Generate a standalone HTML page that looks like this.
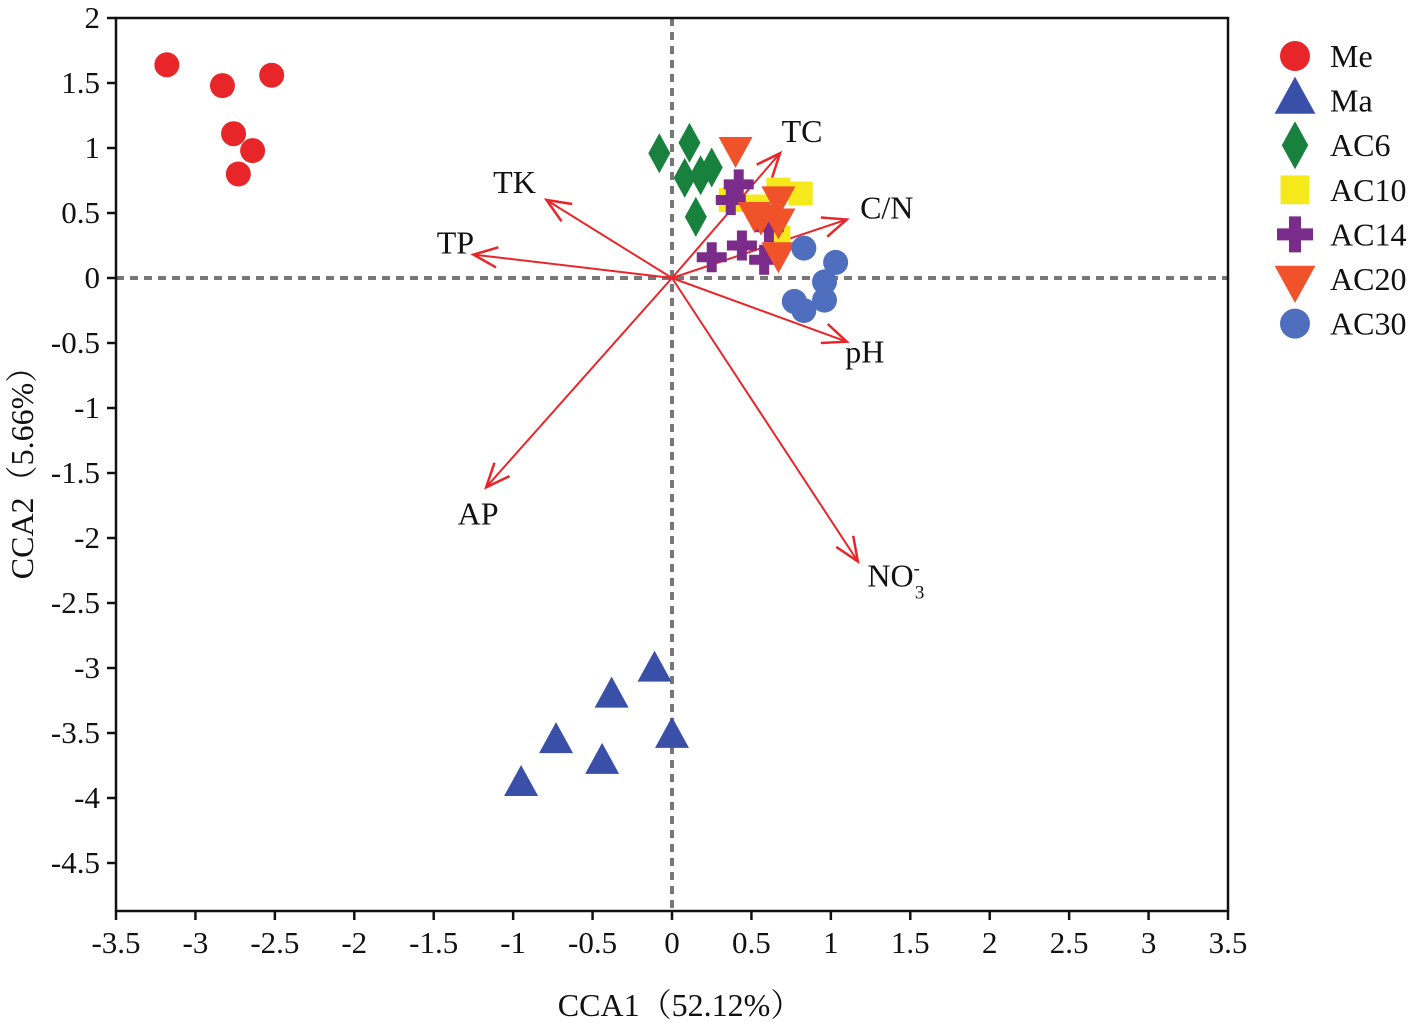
<!DOCTYPE html>
<html><head><meta charset="utf-8"><style>
body{margin:0;background:#fff}
svg text{font-family:"Liberation Serif","Noto Serif CJK SC",serif;fill:#111}
</style></head><body>
<svg id="c" width="1417" height="1026" viewBox="0 0 1417 1026" xmlns="http://www.w3.org/2000/svg"></svg>
<script>
const xTicks=[-3.5,-3,-2.5,-2,-1.5,-1,-0.5,0,0.5,1,1.5,2,2.5,3,3.5];
const yTicks=[2,1.5,1,0.5,0,-0.5,-1,-1.5,-2,-2.5,-3,-3.5,-4,-4.5];
const groupNames=["Me","Ma","AC6","AC10","AC14","AC20","AC30"];
const meX=[-3.18,-2.83,-2.52,-2.76,-2.64,-2.73], meY=[1.64,1.48,1.56,1.11,0.98,0.80];
const maX=[-0.11,-0.38,-0.73,0,-0.44,-0.95], maY=[-3.02,-3.22,-3.57,-3.53,-3.73,-3.90];
const ac6X=[-0.08,0.11,0.08,0.18,0.25,0.15], ac6Y=[0.96,1.04,0.77,0.79,0.85,0.47];
const ac10X=[0.67,0.81,0.37,0.67,0.54], ac10Y=[0.68,0.65,0.60,0.31,0.55];
const ac14X=[0.42,0.37,0.25,0.44,0.58,0.61], ac14Y=[0.72,0.60,0.16,0.25,0.14,0.39];
const ac20X=[0.40,0.67,0.56,0.67,0.67,0.52], ac20Y=[1.00,0.62,0.48,0.45,0.19,0.50];
const ac30X=[0.83,1.03,0.96,0.77,0.96,0.83], ac30Y=[0.23,0.12,-0.03,-0.18,-0.17,-0.25];
const envNames=["TC","C/N","pH","NO3","AP","TP","TK"];
const envX=[0.68,1.10,1.10,1.17,-1.17,-1.25,-0.79];
const envY=[0.96,0.45,-0.49,-2.18,-1.61,0.18,0.60];

const svg=document.getElementById('c');const NS='http://www.w3.org/2000/svg';
const L=116,R=1228,T=18,B=911,X0=-3.5,X1=3.5;
const sx=v=>L+(v-X0)/(X1-X0)*(R-L);
const sy=v=>278-(v)*130;
function el(t,a,p){const e=document.createElementNS(NS,t);for(const k in a)e.setAttribute(k,a[k]);(p||svg).appendChild(e);return e;}
let d=el('line',{x1:sx(0),y1:T,x2:sx(0),y2:B,stroke:'#777','stroke-width':4,'stroke-dasharray':'8 6'});


d=el('line',{x1:L,y1:sy(0),x2:R,y2:sy(0),stroke:'#777','stroke-width':4,'stroke-dasharray':'8 6'});


let f=el('rect',{x:L,y:T,width:R-L,height:B-T,fill:'none',stroke:'#111','stroke-width':2.5});


xTicks.forEach(v=>{const x=sx(v);el('line',{x1:x,y1:B,x2:x,y2:B+9,stroke:'#111','stroke-width':2.5});
 const t=el('text',{x:x,y:953,'text-anchor':'middle','font-size':31});t.textContent=v;
 
 });
yTicks.forEach(v=>{const y=sy(v);el('line',{x1:L-9,y1:y,x2:L,y2:y,stroke:'#111','stroke-width':2.5});
 const t=el('text',{x:L-16,y:y+10,'text-anchor':'end','font-size':31});t.textContent=v;
 
 });
let xt=el('text',{x:680,y:1016,'text-anchor':'middle','font-size':32});xt.textContent='CCA1（52.12%）';


let yt=el('text',{x:0,y:0,'text-anchor':'middle','font-size':32,transform:'translate(33,465) rotate(-90)'});yt.textContent='CCA2（5.66%）';


const labOff=[[22,-12],[40,-2],[18,20],[38,24],[-8,36],[-18,-2],[-32,-8]];
envNames.forEach((n,i)=>{const x2=sx(envX[i]),y2=sy(envY[i]),x1=sx(0),y1=sy(0);
 const g=el('g',{});
 
 el('line',{x1,y1,x2,y2,stroke:'#e8262a','stroke-width':2},g);
 const a=Math.atan2(y2-y1,x2-x1),h=26,s=0.4;
 el('polyline',{points:`${x2-h*Math.cos(a-s)},${y2-h*Math.sin(a-s)} ${x2},${y2} ${x2-h*Math.cos(a+s)},${y2-h*Math.sin(a+s)}`,fill:'none',stroke:'#e8262a','stroke-width':2.5},g);
 const t=el('text',{x:x2+labOff[i][0],y:y2+labOff[i][1]+1,'text-anchor':'middle','font-size':32},g);
 if(n==='NO3'){t.innerHTML='NO<tspan font-size="19" dy="-12">-</tspan><tspan font-size="19" dy="24" dx="-5">3</tspan>';}else t.textContent=n;});
const colors=['#e8262a','#3a4fa8','#17813d','#f5e91c','#7b2b8a','#f0522a','#4f6ebd'];
function marker(type,x,y,c,p,k){k=k||1;
 if(type==0||type==6)return el('circle',{cx:x,cy:y,r:12.5*k,fill:c},p);
 if(type==1)return el('polygon',{points:`${x},${y-20*k} ${x+17*k},${y+11*k} ${x-17*k},${y+11*k}`,fill:c},p);
 if(type==2)return el('polygon',{points:`${x},${y-20*k} ${x+11*k},${y} ${x},${y+20*k} ${x-11*k},${y}`,fill:c},p);
 if(type==3)return el('rect',{x:x-12*k,y:y-12*k,width:24*k,height:24*k,fill:c},p);
 if(type==4){const u=5*k,w=15*k;return el('path',{d:`M${x-u},${y-w}h${2*u}v${w-u}h${w-u}v${2*u}h${-(w-u)}v${w-u}h${-2*u}v${-(w-u)}h${-(w-u)}v${-2*u}h${w-u}z`,fill:c},p);}
 if(type==5)return el('polygon',{points:`${x-17*k},${y-11*k} ${x+17*k},${y-11*k} ${x},${y+20*k}`,fill:c},p);
}
const gx=[meX,maX,ac6X,ac10X,ac14X,ac20X,ac30X],gy=[meY,maY,ac6Y,ac10Y,ac14Y,ac20Y,ac30Y];
gx.forEach((xs,g)=>{const grp=el('g',{});
 
 xs.forEach((v,i)=>{const m=marker(g,sx(v),sy(gy[g][i]),colors[g],grp);
  
  });});
groupNames.forEach((n,i)=>{const y=56+i*44.6;const g=el('g',{});
 
 
 marker(i,1295,y,colors[i],g,1.2);
 const t=el('text',{x:1330,y:y+11,'font-size':32},g);t.textContent=n;});
</script>
</body></html>
